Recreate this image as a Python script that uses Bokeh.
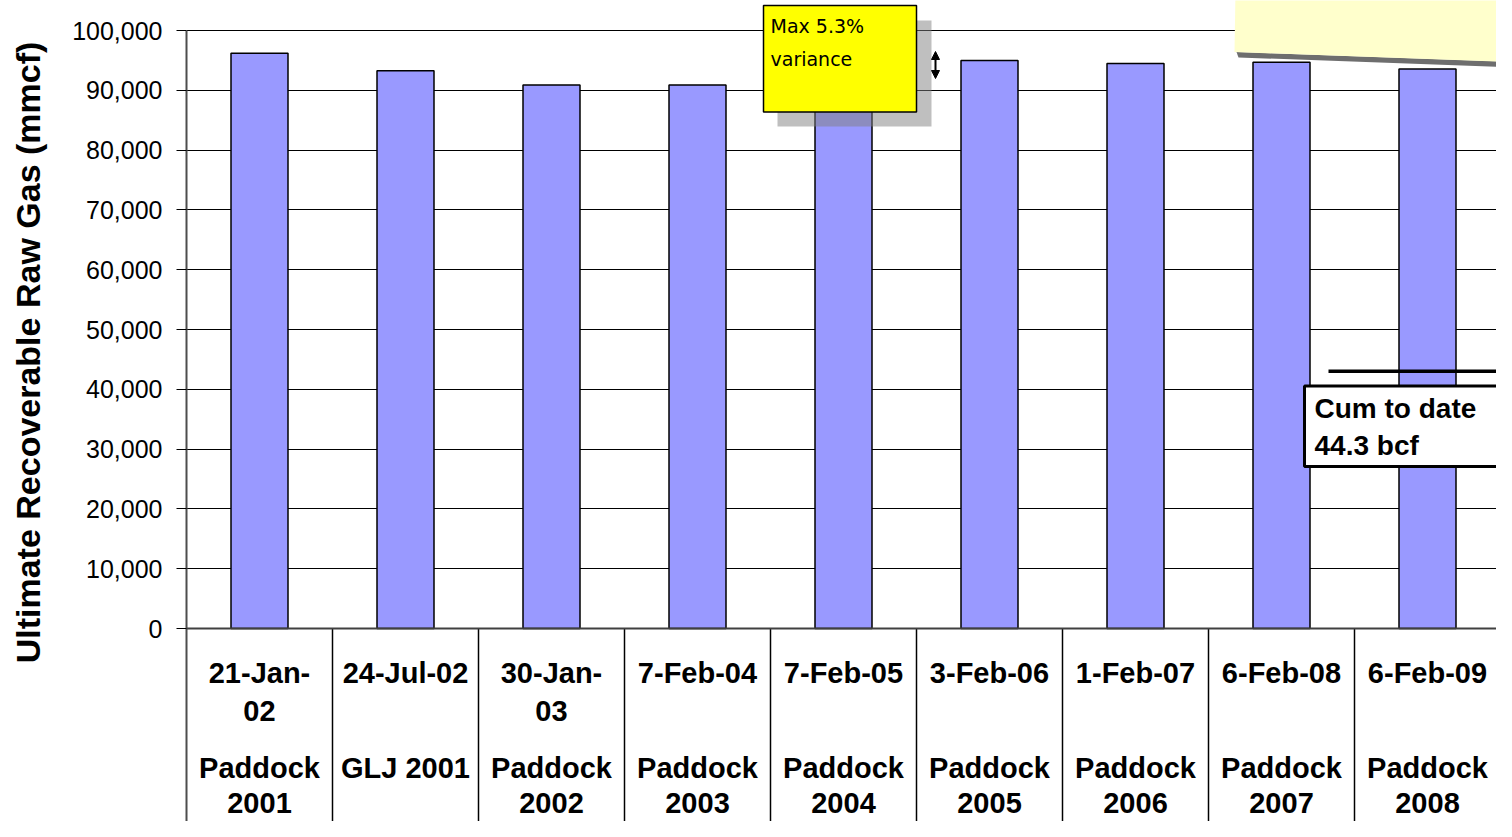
import math
from bokeh.plotting import figure
from bokeh.layouts import row
from bokeh.models import (Range1d, FixedTicker, NumeralTickFormatter, Span,
                          Arrow, NormalHead, ColumnDataSource)
from bokeh.embed import file_html
from bokeh.resources import INLINE
from bokeh.core.properties import value

# ---------------- data ----------------
date_labels = ["21-Jan-\n02", "24-Jul-02", "30-Jan-\n03", "7-Feb-04", "7-Feb-05",
               "3-Feb-06", "1-Feb-07", "6-Feb-08", "6-Feb-09"]
source_labels = ["Paddock\n2001", "GLJ 2001", "Paddock\n2002", "Paddock\n2003", "Paddock\n2004",
                 "Paddock\n2005", "Paddock\n2006", "Paddock\n2007", "Paddock\n2008"]
ur_gas = [96200, 93250, 90900, 90900, 92000, 95000, 94500, 94700, 93550]
y_ticks = list(range(0, 100001, 10000))
cum_to_date_line = 43000
note_lines = ["Max 5.3%", "variance"]
cum_lines = ["Cum to date", "44.3 bcf"]
y_title = "Ultimate Recoverable Raw Gas (mmcf)"

# ---------------- geometry (picture pixels) ----------------
FIG_W, FIG_H = 1496, 821
TITLE_W = 50                   # narrow strip holding the value-axis title
LEFT_PX = 186                  # frame left
RIGHT_PX = FIG_W               # frame right
TOP_PX, BOT_PX = 0, FIG_H      # frame top / bottom
ZERO_PX, MAX_PX = 628, 30      # pixel rows of 0 and 100,000
CAT_PX = 146                   # width of one category
n = len(ur_gas)
px_per_unit = (ZERO_PX - MAX_PX) / 100000.0


def dx(px):
    return (px - LEFT_PX) / CAT_PX


def dy(py):
    return (ZERO_PX - py) / px_per_unit


y_top = dy(TOP_PX)
y_bot = dy(BOT_PX)
x_end = dx(RIGHT_PX)

# ---------- title strip ----------
t = figure(width=TITLE_W, height=FIG_H, output_backend="svg", toolbar_location=None,
           x_range=Range1d(0, TITLE_W), y_range=Range1d(0, FIG_H),
           x_axis_location=None, y_axis_location=None,
           min_border_left=0, min_border_right=0, min_border_top=0, min_border_bottom=0)
t.outline_line_color = None
t.grid.visible = False
t.text(x=[27], y=[FIG_H - 352], text=[y_title], angle=math.pi / 2,
       text_align="center", text_baseline="middle",
       text_font=value("Liberation Sans"), text_font_style="bold",
       text_font_size="34px", text_color="black")

# ---------- main chart ----------
p = figure(width=FIG_W - TITLE_W, height=FIG_H, output_backend="svg", toolbar_location=None,
           x_range=Range1d(0, x_end), y_range=Range1d(y_bot, y_top),
           x_axis_location=None, min_border_left=LEFT_PX - TITLE_W, min_border_right=0,
           min_border_top=0, min_border_bottom=0)
p.outline_line_color = None
p.background_fill_color = "white"
p.xgrid.visible = False

yax = p.yaxis[0]
yax.ticker = FixedTicker(ticks=y_ticks)
yax.formatter = NumeralTickFormatter(format="0,0")
yax.bounds = (y_bot, 100000)
yax.axis_line_color = "#4d4d4d"
yax.axis_line_width = 2
yax.major_tick_line_color = "black"
yax.major_tick_line_width = 1
yax.major_tick_out = 10
yax.major_tick_in = 0
yax.minor_tick_line_color = None
yax.major_label_text_font = "Liberation Sans"
yax.major_label_text_font_size = "25px"
yax.major_label_text_color = "black"
yax.major_label_standoff = 14

p.ygrid.ticker = FixedTicker(ticks=y_ticks)
p.ygrid.grid_line_color = "black"
p.ygrid.grid_line_width = 1

# bars
centers = [i + 0.5 for i in range(n)]
src = ColumnDataSource(dict(x=centers, top=ur_gas))
p.vbar(x="x", top="top", width=57 / CAT_PX, bottom=0, source=src,
       fill_color="#9999FF", line_color="black", line_width=1.5)

# zero line
p.add_layout(Span(location=0, dimension="width", line_color="#404040", line_width=2))

# category separators
bounds_x = [i for i in range(1, n)]
p.segment(x0=bounds_x, y0=[0] * len(bounds_x), x1=bounds_x, y1=[y_bot] * len(bounds_x),
          line_color="black", line_width=1.5)


def lines(labels, k):
    out = []
    for s in labels:
        parts = s.split("\n")
        out.append(parts[k] if k < len(parts) else "")
    return out


label_rows = [(date_labels, 0, 44), (date_labels, 1, 82),
              (source_labels, 0, 139), (source_labels, 1, 174)]
for labels, k, off in label_rows:
    p.text(x=centers, y=[0] * n, text=lines(labels, k), y_offset=off,
           text_align="center", text_baseline="middle",
           text_font=value("Liberation Sans"), text_font_style="bold",
           text_font_size="29px", text_color="black")

# "Cum to date" marker line and box
p.segment(x0=[dx(1328)], y0=[cum_to_date_line], x1=[x_end + 0.2], y1=[cum_to_date_line],
          line_color="black", line_width=3.5)
p.quad(left=[dx(1304)], right=[x_end + 0.5], top=[dy(385.5)], bottom=[dy(466)],
       fill_color="white", line_color="black", line_width=3)
p.text(x=[dx(1314)] * 2, y=[dy(407.5), dy(444.5)], text=cum_lines,
       text_align="left", text_baseline="middle",
       text_font=value("Liberation Sans"), text_font_style="bold",
       text_font_size="28px", text_color="black")

# "Max 5.3% variance" note with shadow
p.quad(left=[dx(777)], right=[dx(931)], top=[dy(20)], bottom=[dy(126)],
       fill_color="#808080", fill_alpha=0.5, line_color=None)
p.quad(left=[dx(763)], right=[dx(916)], top=[dy(5)], bottom=[dy(111.5)],
       fill_color="#FFFF00", line_color="black", line_width=1.5)
p.text(x=[dx(770)] * 2, y=[dy(25), dy(58)], text=note_lines,
       text_align="left", text_baseline="middle",
       text_font=value("DejaVu Sans"), text_font_size="19px", text_color="black")
p.add_layout(Arrow(x_start=dx(935), y_start=dy(51), x_end=dx(935), y_end=dy(78),
                   start=NormalHead(size=8, fill_color="black", line_color="black"),
                   end=NormalHead(size=8, fill_color="black", line_color="black"),
                   line_width=2, line_color="black"))

# sticky note in the top-right corner
p.patch(x=[dx(1236), dx(1520), dx(1520), dx(1238)],
        y=[dy(51.5), dy(61.5), dy(67), dy(57)],
        fill_color="#6e6e6e", line_color=None)
p.patch(x=[dx(1235), dx(1520), dx(1520), dx(1234)],
        y=[dy(-10), dy(-10), dy(62), dy(51.5)],
        fill_color="#FFFFCC", line_color=None)

layout = row(t, p, spacing=0)
open("out.html", "w").write(file_html(layout, INLINE))
